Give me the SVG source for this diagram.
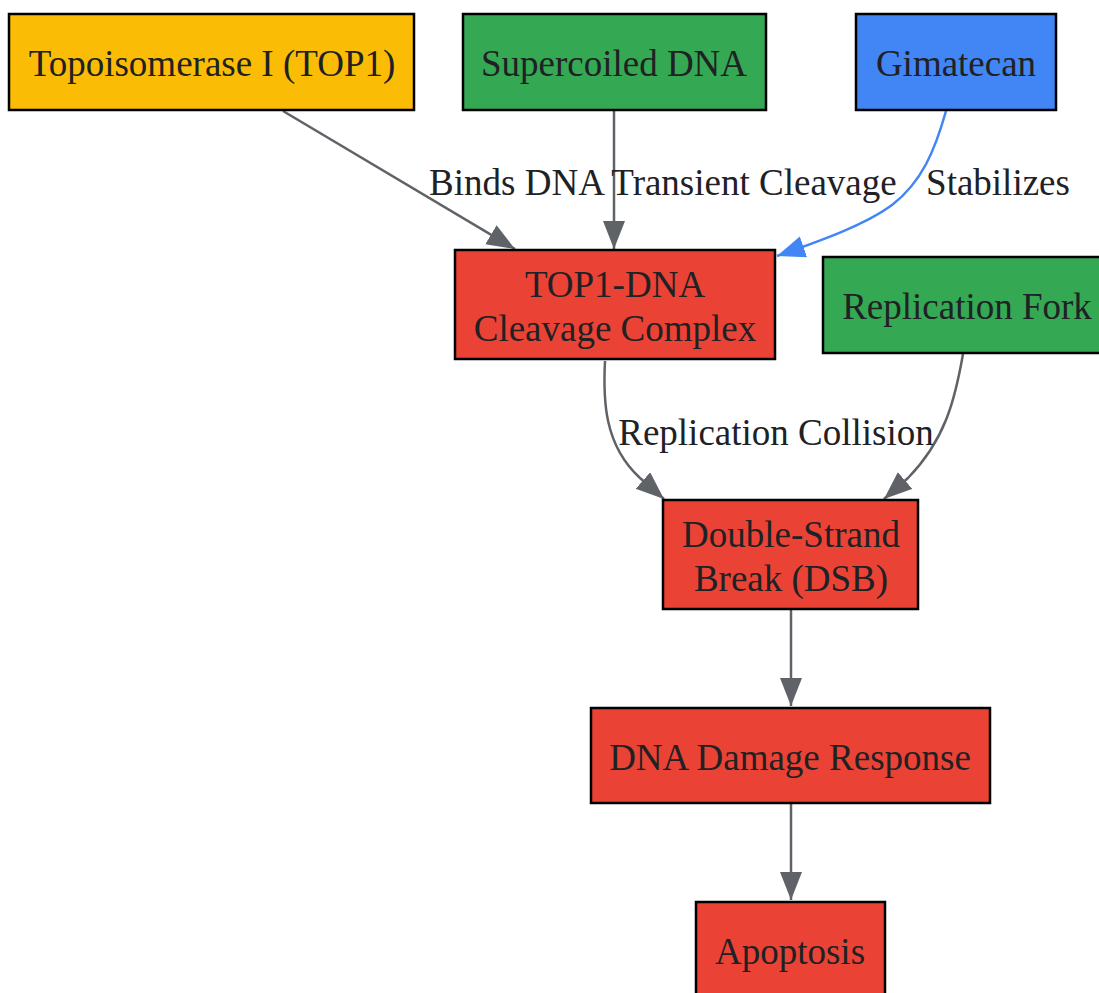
<svg xmlns="http://www.w3.org/2000/svg" width="1099" height="993" viewBox="0 0 1099 993">
<style>
.n rect{stroke:#000;stroke-width:2.5}
.n text,.l{font-family:"Liberation Serif",serif;font-size:37px;fill:#202124;text-anchor:middle}
.e{fill:none;stroke:#5F6368;stroke-width:2.5}
.b{stroke:#4285F4}
</style>
<defs>
<marker id="ag" markerUnits="userSpaceOnUse" markerWidth="30" markerHeight="24" refX="28" refY="11" orient="auto"><path d="M0,0 L28,11 L0,22 Z" fill="#5F6368"/></marker>
<marker id="ab" markerUnits="userSpaceOnUse" markerWidth="30" markerHeight="24" refX="28" refY="11" orient="auto"><path d="M0,0 L28,11 L0,22 Z" fill="#4285F4"/></marker>
</defs>
<rect width="1099" height="993" fill="#fff"/>
<g id="edges">
<path class="e" d="M283,111 L515,249" marker-end="url(#ag)"/>
<path class="e" d="M614,111 L614,249" marker-end="url(#ag)"/>
<path class="e b" d="M946,111 C935,150 922,182 892,205 C865,225 820,241 777,256" marker-end="url(#ab)"/>
<path class="e" d="M605,361 C603,400 604,445 640,478 L664,499" marker-end="url(#ag)"/>
<path class="e" d="M963,354 C955,400 945,440 908,478 L884,499" marker-end="url(#ag)"/>
<path class="e" d="M791,610 L791,706" marker-end="url(#ag)"/>
<path class="e" d="M791,804 L791,900" marker-end="url(#ag)"/>
<text class="l" x="517" y="195">Binds DNA</text>
<text class="l" x="754" y="195">Transient Cleavage</text>
<text class="l" x="998" y="195">Stabilizes</text>
<text class="l" x="776" y="445">Replication Collision</text>
</g>
<g id="top1" class="n"><rect x="9" y="14" width="405" height="96" fill="#FBBC05"/><text x="212" y="76">Topoisomerase I (TOP1)</text></g>
<g id="supercoiled" class="n"><rect x="463" y="14" width="303" height="96" fill="#34A853"/><text x="614" y="76">Supercoiled DNA</text></g>
<g id="gimatecan" class="n"><rect x="856" y="14" width="200" height="96" fill="#4285F4"/><text x="956" y="76">Gimatecan</text></g>
<g id="complex" class="n"><rect x="455" y="250" width="320" height="109" fill="#EA4335"/><text x="615" y="297">TOP1-DNA</text><text x="615" y="341">Cleavage Complex</text></g>
<g id="fork" class="n"><rect x="823" y="257" width="280" height="96" fill="#34A853"/><text x="967" y="319">Replication Fork</text></g>
<g id="dsb" class="n"><rect x="663" y="500" width="255" height="109" fill="#EA4335"/><text x="791" y="547">Double-Strand</text><text x="791" y="591">Break (DSB)</text></g>
<g id="ddr" class="n"><rect x="591" y="708" width="399" height="95" fill="#EA4335"/><text x="790" y="770">DNA Damage Response</text></g>
<g id="apoptosis" class="n"><rect x="696" y="902" width="189" height="96" fill="#EA4335"/><text x="790" y="964">Apoptosis</text></g>
</svg>
